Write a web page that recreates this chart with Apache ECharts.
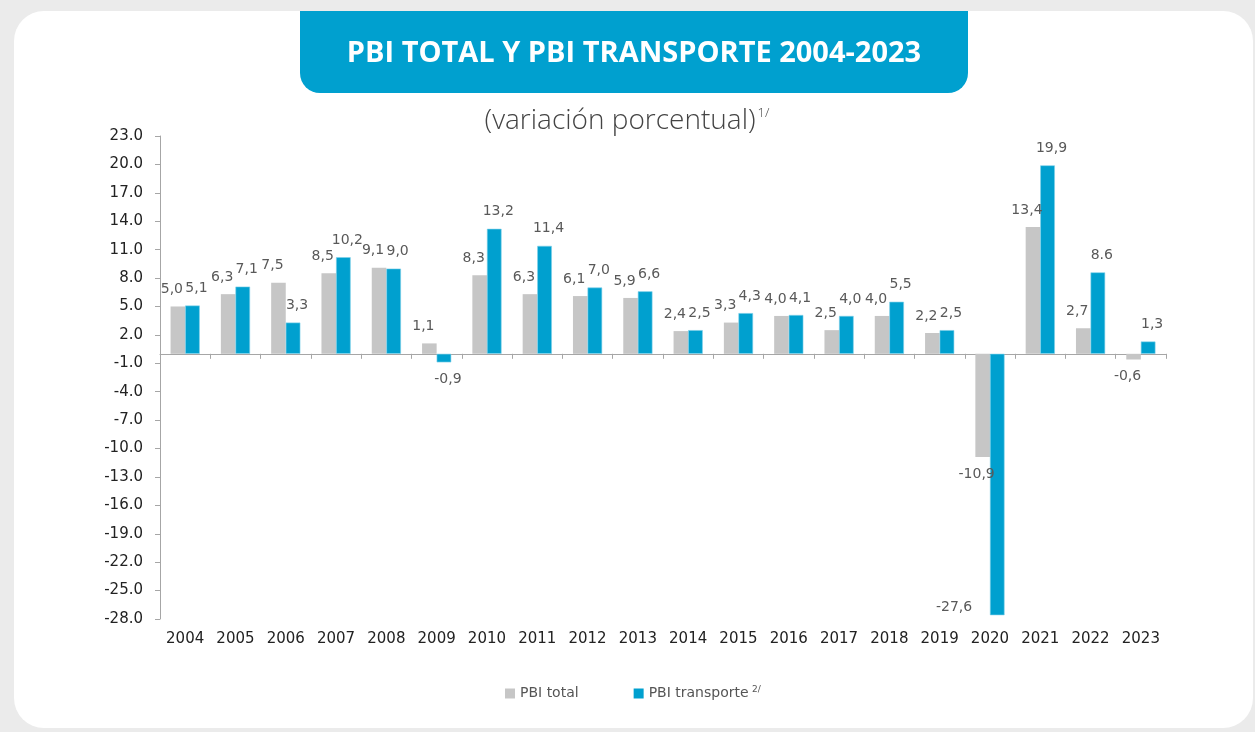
<!DOCTYPE html>
<html>
<head>
<meta charset="utf-8">
<script src="https://cdn.jsdelivr.net/npm/echarts@6/dist/echarts.min.js"></script>
<style>
	html, body { margin:0; padding:0; background:#ebebeb; }
	#chart { width:1255px; height:732px; }
</style>
</head>
<body>
<div id="chart"></div>
<script>
	// años
	var anios = ['2004','2005','2006','2007','2008','2009','2010','2011','2012','2013','2014','2015','2016','2017','2018','2019','2020','2021','2022','2023'];
	// PBI total (var. %)
	var pbiTotal = [5.0, 6.3, 7.5, 8.5, 9.1, 1.1, 8.3, 6.3, 6.1, 5.9, 2.4, 3.3, 4.0, 2.5, 4.0, 2.2, -10.9, 13.4, 2.7, -0.6];
	// PBI transporte (var. %)
	var pbiTransporte = [5.1, 7.1, 3.3, 10.2, 9.0, -0.9, 13.2, 11.4, 7.0, 6.6, 2.5, 4.3, 4.1, 4.0, 5.5, 2.5, -27.6, 19.9, 8.6, 1.3];
	// etiquetas tal como aparecen
	var etqTotal = ['5,0','6,3','7,5','8,5','9,1','1,1','8,3','6,3','6,1','5,9','2,4','3,3','4,0','2,5','4,0','2,2','-10,9','13,4','2,7','-0,6'];
	var etqTransporte = ['5,1','7,1','3,3','10,2','9,0','-0,9','13,2','11,4','7,0','6,6','2,5','4,3','4,1','4,0','5,5','2,5','-27,6','19,9','8.6','1,3'];
	// eje y
	var yTicks = [-28, -25, -22, -19, -16, -13, -10, -7, -4, -1, 2, 5, 8, 11, 14, 17, 20, 23];

	var FONT = 'DejaVu Sans';

	function toItems(vals, etq, dx){
		return vals.map(function(v, i){
			var lbl = {
				position: v < 0 ? 'bottom' : 'top',
				offset: [dx, 0],
				formatter: etq[i]
			};
			// barra que llega al fondo: etiqueta a la izquierda, dentro del área
			if (v < -20) {
				lbl.position = 'insideBottomLeft';
				lbl.offset = [-64, 9];
			}
			return { value: v, label: lbl };
		});
	}

	var myChart = echarts.init(document.getElementById('chart'));
	var option = {
		backgroundColor: '#ebebeb',
		animation: false,
		graphic: [
			{ type:'rect', shape:{ x:14, y:11, width:1239, height:717, r:30 }, style:{ fill:'#ffffff' }, z:-10 },
			{ type:'rect', shape:{ x:300, y:11, width:668, height:82, r:[0,0,20,20] }, style:{ fill:'#00a0cf' }, z:-5 }
		],
		title: [
			{
				text: 'PBI TOTAL Y PBI TRANSPORTE 2004-2023',
				left: 629, top: 34, textAlign: 'center',
				textStyle: { color:'#ffffff', fontSize:29, fontWeight:'bold', fontFamily:'Open Sans' }
			},
			{
				text: '{m|(variación porcentual)}{s|1/}',
				left: 622, top: 102, textAlign: 'center',
				textStyle: {
					rich: {
						m: { fontSize:28, color:'#444', fontFamily:'Open Sans', fontWeight:300 },
						s: { fontSize:13, color:'#444', fontFamily:'Open Sans', fontWeight:300, verticalAlign:'top', padding:[0,0,16,2] }
					}
				}
			}
		],
		legend: {
			top: 680, left: 500,
			icon: 'rect', itemWidth: 10, itemHeight: 10, itemGap: 55,
			itemStyle: { borderWidth: 0 },
			data: ['PBI total', 'PBI transporte'],
			formatter: function(name){
				return name === 'PBI transporte' ? '{a|' + name + '} {s|2/}' : '{a|' + name + '}';
			},
			textStyle: {
				rich: {
					a: { fontSize:14, color:'#555', fontFamily:FONT },
					s: { fontSize:9, color:'#555', fontFamily:FONT, padding:[0,0,8,0] }
				}
			}
		},
		grid: { left:160, right:89, top:136, bottom:113, containLabel:false },
		xAxis: [
			{
				type: 'category', data: anios,
				axisLine: { onZero:true, lineStyle:{ color:'#a6a6a6', width:1 } },
				axisTick: { show:true, length:5, lineStyle:{ color:'#a6a6a6' } },
				axisLabel: { show:false }
			},
			{
				type: 'category', data: anios, position: 'bottom',
				axisLine: { show:false, onZero:false },
				axisTick: { show:false },
				axisLabel: { margin:13, fontSize:15, color:'#222', fontFamily:FONT }
			}
		],
		yAxis: {
			type: 'value', min:-28, max:23, interval:3,
			splitLine: { show:false },
			axisLine: { show:true, lineStyle:{ color:'#a6a6a6' } },
			axisTick: { show:true, length:5, customValues:yTicks, lineStyle:{ color:'#a6a6a6' } },
			axisLabel: {
				customValues: yTicks, margin:17, fontSize:15, color:'#222', fontFamily:FONT,
				formatter: function(v){ return v.toFixed(1); }
			}
		},
		series: [
			{
				name: 'PBI total', type: 'bar', xAxisIndex:0,
				barGap: '0%', barCategoryGap: '42%',
				itemStyle: { color:'#c6c6c6' },
				label: { show:true, distance:10, fontSize:14, color:'#595959', fontFamily:FONT },
				data: toItems(pbiTotal, etqTotal, -6)
			},
			{
				name: 'PBI transporte', type: 'bar', xAxisIndex:0,
				itemStyle: { color:'#00a0cf', borderColor:'#7fd0ea', borderWidth:0.6 },
				label: { show:true, distance:10, fontSize:14, color:'#595959', fontFamily:FONT },
				data: toItems(pbiTransporte, etqTransporte, 4)
			}
		]
	};
	myChart.setOption(option);
</script>
</body>
</html>
